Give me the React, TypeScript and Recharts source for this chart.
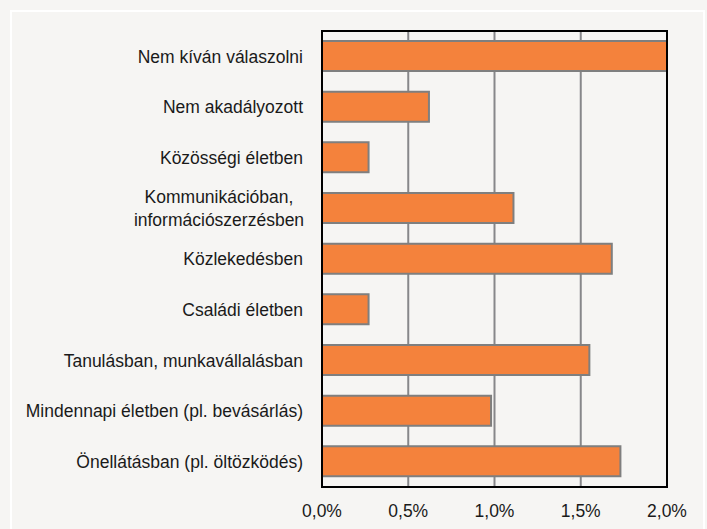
import { BarChart, Bar, XAxis, YAxis, CartesianGrid } from "recharts"

// Categories, top to bottom
const categories = [
  "Nem kíván válaszolni",
  "Nem akadályozott",
  "Közösségi életben",
  "Kommunikációban,\ninformációszerzésben",
  "Közlekedésben",
  "Családi életben",
  "Tanulásban, munkavállalásban",
  "Mindennapi életben (pl. bevásárlás)",
  "Önellátásban (pl. öltözködés)",
]

// Share in percent
const shares = [2.0, 0.62, 0.27, 1.11, 1.68, 0.27, 1.55, 0.98, 1.73]

const xTicks = [0, 0.5, 1, 1.5, 2]

const data = categories.map((name, i) => ({ name, value: shares[i] }))

const FONT = "'Liberation Sans', Arial, sans-serif"

const fmt = (v: number) => v.toFixed(1).replace(".", ",") + "%"

const CategoryTick = (props: any) => {
  const { x, y, payload } = props
  const lines = String(payload.value).split("\n")
  if (lines.length === 1) {
    return (
      <text x={x} y={y} dy="0.36em" textAnchor="end" fontSize={17.5} fontFamily={FONT} fill="#1a1a1a">
        {lines[0]}
      </text>
    )
  }
  const lh = 23
  const cx = x - 84
  return (
    <text x={cx} y={y} textAnchor="middle" fontSize={17.5} fontFamily={FONT} fill="#1a1a1a">
      {lines.map((l, i) => (
        <tspan key={i} x={cx} y={y + (i - (lines.length - 1) / 2) * lh} dy="0.36em">
          {l}
        </tspan>
      ))}
    </text>
  )
}

export default function App() {
  return (
    <div
      style={{
        position: "fixed",
        left: 0,
        top: 0,
        width: 707,
        height: 529,
        overflow: "hidden",
        background: "#f6f5f3",
      }}
    >
      <div
        style={{
          position: "absolute",
          left: 10,
          top: 10,
          width: 691,
          height: 560,
          border: "2px solid #ffffff",
        }}
      />
      <div style={{ position: "absolute", left: 0, top: 0 }}>
        <BarChart
          width={707}
          height={529}
          data={data}
          layout="vertical"
          margin={{ top: 31, right: 40, bottom: 0, left: 0 }}
        >
          <CartesianGrid horizontal={false} stroke="#87878a" strokeWidth={2} />
          <XAxis
            type="number"
            domain={[0, 2]}
            ticks={xTicks}
            tickFormatter={fmt}
            axisLine={false}
            tickLine={false}
            tickSize={0}
            tickMargin={18}
            height={42}
            interval={0}
            allowDataOverflow
            tick={{ fontSize: 17.5, fontFamily: FONT, fill: "#1a1a1a" }}
          />
          <YAxis
            type="category"
            dataKey="name"
            width={322}
            axisLine={false}
            tickLine={false}
            tickSize={0}
            tickMargin={19}
            interval={0}
            tick={<CategoryTick />}
          />
          <Bar
            dataKey="value"
            fill="#f4823c"
            stroke="#7f7f7f"
            strokeWidth={2}
            barSize={30}
            isAnimationActive={false}
          />
        </BarChart>
      </div>
      {/* black frame of the plot area */}
      <div
        style={{
          position: "absolute",
          left: 321,
          top: 30,
          width: 347,
          height: 458,
          boxSizing: "border-box",
          border: "2px solid #000",
          pointerEvents: "none",
        }}
      />
    </div>
  )
}
